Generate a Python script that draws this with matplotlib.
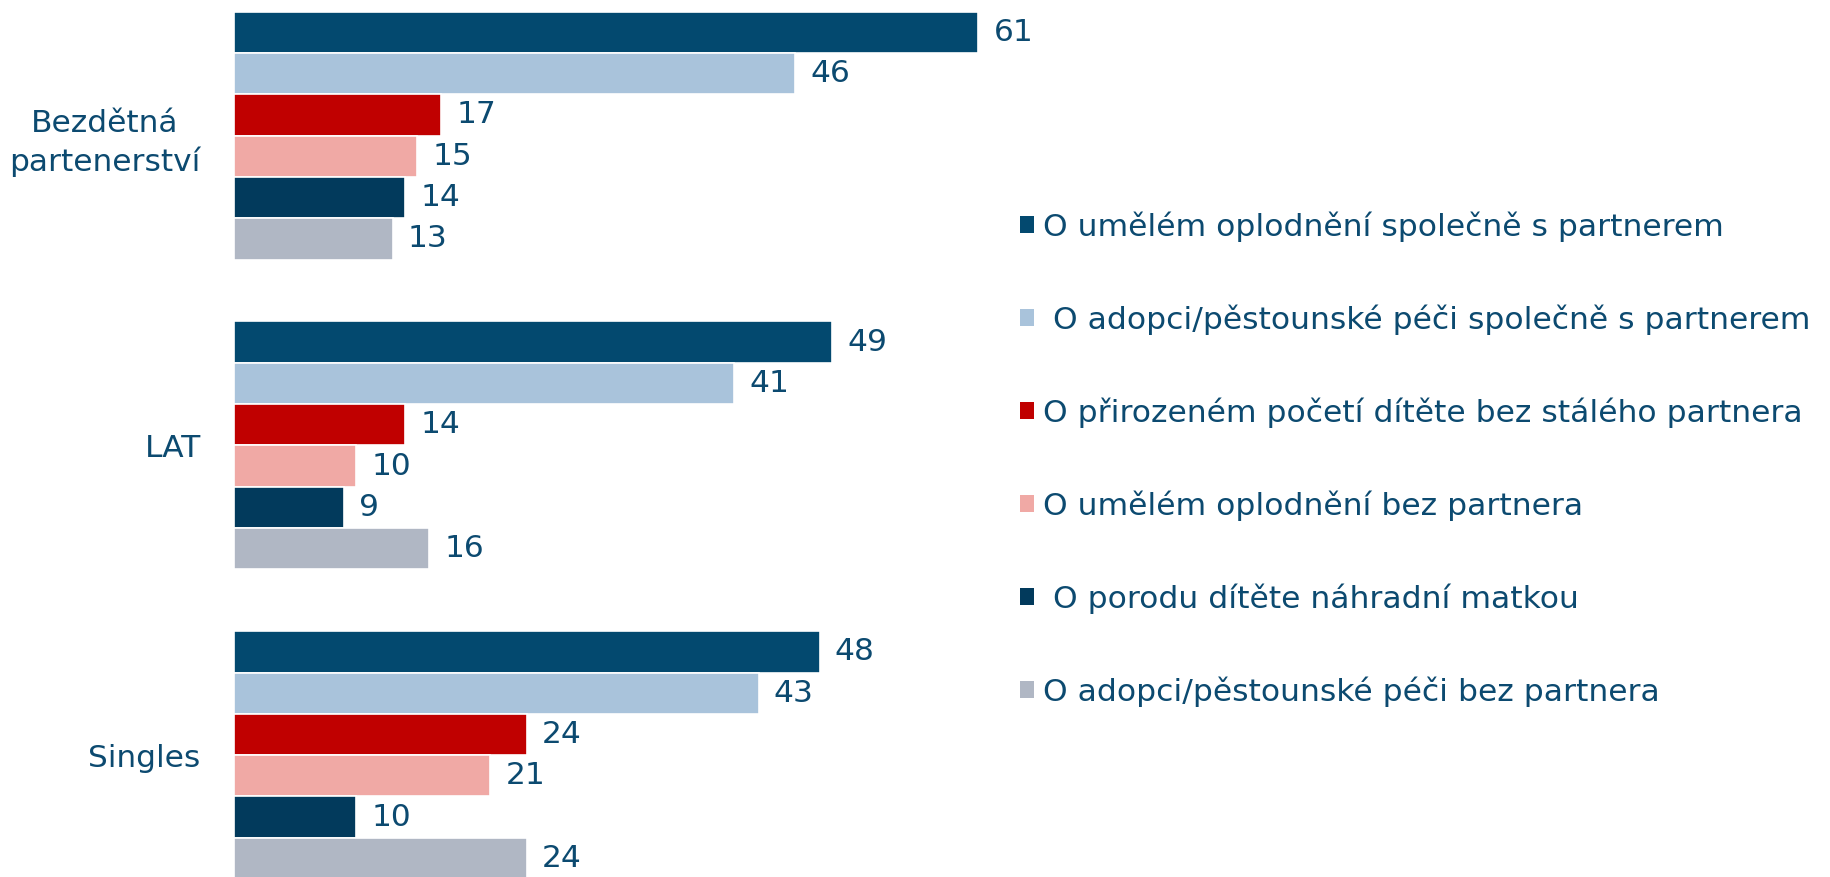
import matplotlib
matplotlib.use("Agg")
import matplotlib.pyplot as plt
from matplotlib.patches import Patch
import numpy as np

plt.rcParams['font.family'] = ['DejaVu Sans']

categories = ["Bezdětná\npartenerství", "LAT", "Singles"]
series_labels = [
    "O umělém oplodnění společně s partnerem",
    " O adopci/pěstounské péči společně s partnerem",
    "O přirozeném početí dítěte bez stálého partnera",
    "O umělém oplodnění bez partnera",
    " O porodu dítěte náhradní matkou",
    "O adopci/pěstounské péči bez partnera",
]
values = [
    [61, 49, 48],
    [46, 41, 43],
    [17, 14, 24],
    [15, 10, 21],
    [14, 9, 10],
    [13, 16, 24],
]
colors = ["#03496F", "#A9C3DB", "#C00000", "#F0A9A5", "#023A5C", "#B0B7C4"]
text_color = "#0C4A70"

W, H = 1830, 877
fig = plt.figure(figsize=(W / 100, H / 100), dpi=100)
ax_left = 234 / W
ax = fig.add_axes([ax_left, 0, 1 - ax_left, 1])

group_step = 7.5
px_per_unit = 12.2
for i, (vals, col) in enumerate(zip(values, colors)):
    ys = [g * group_step + i for g in range(len(categories))]
    bars = ax.barh(ys, vals, height=1.0, color=col, edgecolor="white", linewidth=1.2)
    for b, v in zip(bars, vals):
        ax.annotate(str(v), (b.get_width(), b.get_y() + b.get_height() / 2),
                    xytext=(11, 0), textcoords="offset points",
                    va="center", ha="left", fontsize=22.5, color=text_color)

ax.set_xlim(0, (W - 234) / px_per_unit)
top_px = 11.7
bar_px = 41.3
ax.set_ylim(-0.5 + (H - top_px) / bar_px, -0.5 - top_px / bar_px)

ax.set_yticks([g * group_step + 2.5 for g in range(len(categories))])
ax.set_yticklabels(categories, fontsize=22.5, color=text_color)
ax.tick_params(axis="y", length=0, pad=24)
for lab in ax.get_yticklabels():
    lab.set_horizontalalignment("right")
    lab.set_multialignment("center")
    lab.set_linespacing(1.35)
ax.set_xticks([])
for s in ax.spines.values():
    s.set_visible(False)

handles = [Patch(facecolor=c, edgecolor="none") for c in colors]
fig.legend(handles, series_labels, loc="upper left",
           bbox_to_anchor=(1007 / W, 1 - 199 / H), frameon=False,
           fontsize=22.6, labelcolor=text_color, handlelength=0.45, handleheight=0.45,
           handletextpad=0.3, labelspacing=1.99, borderaxespad=0)

fig.savefig("out.png", dpi=100)
